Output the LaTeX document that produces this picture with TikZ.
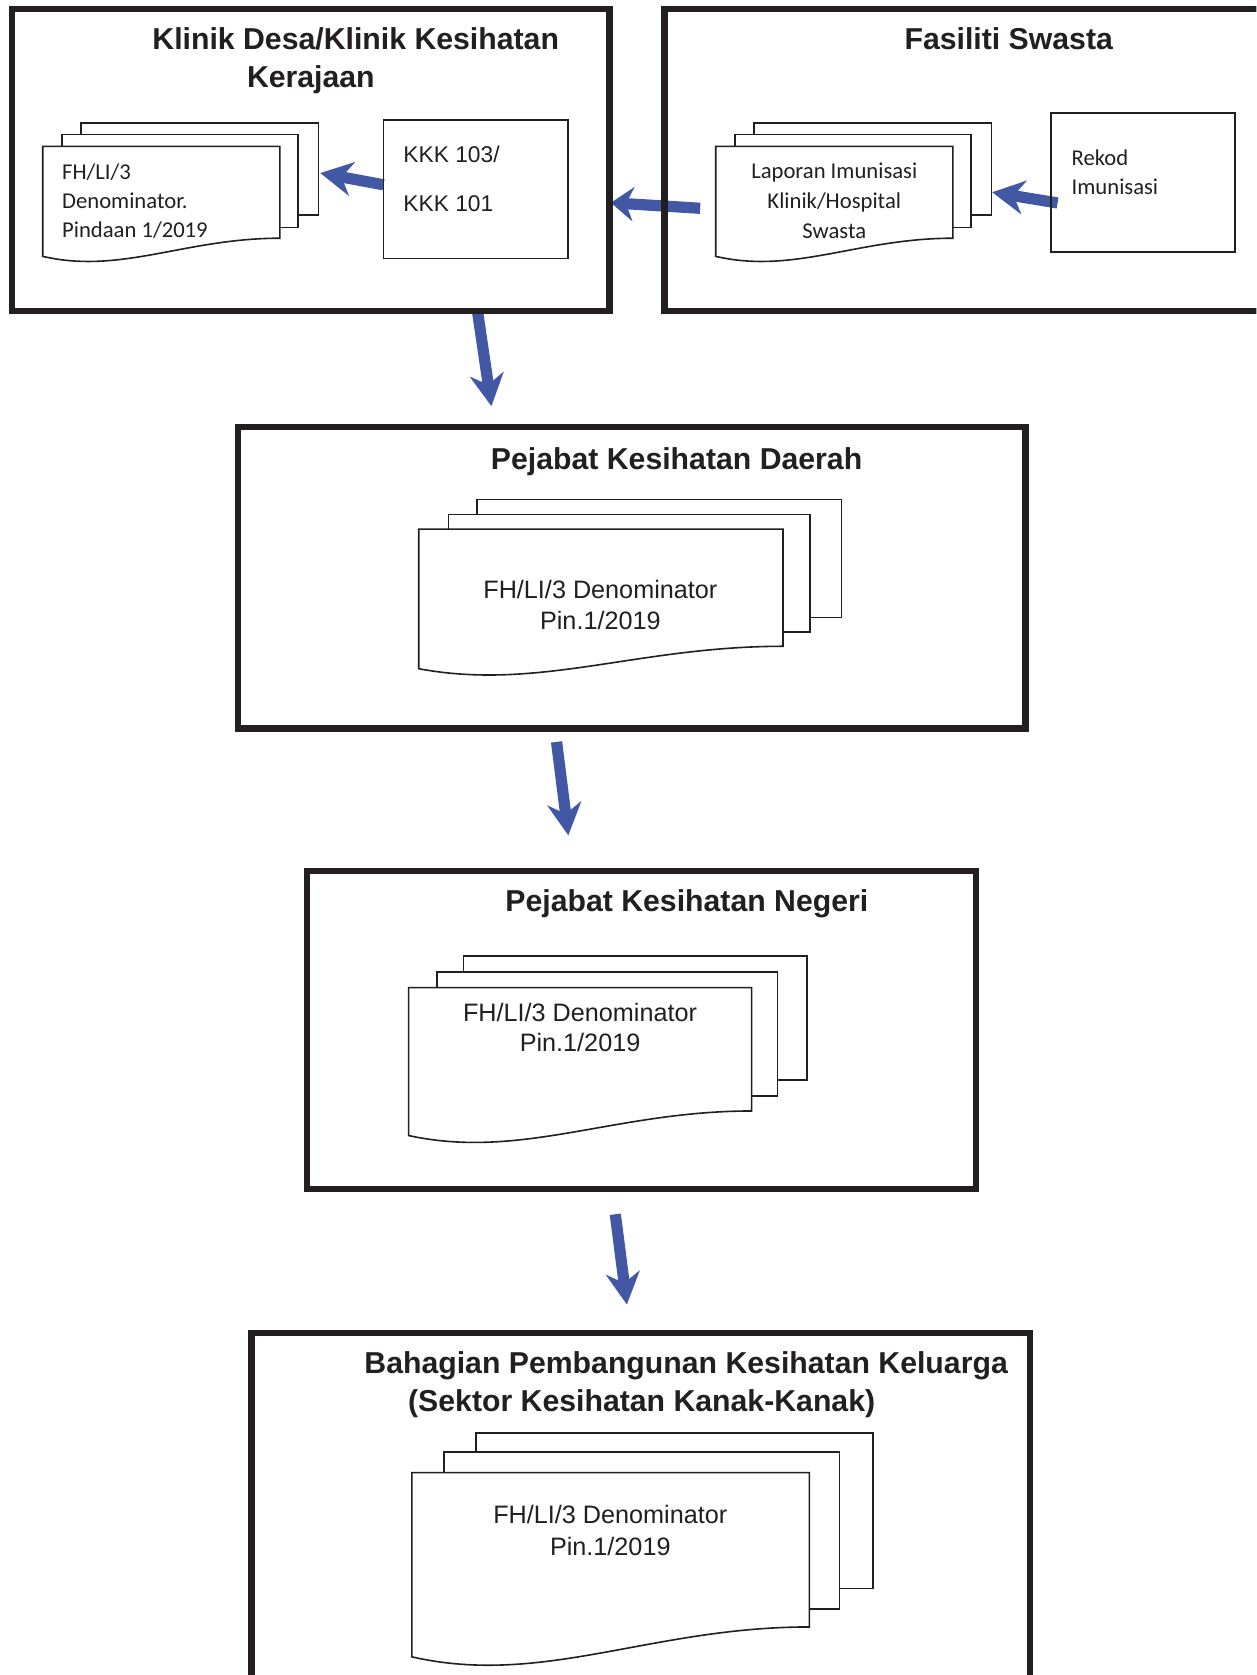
\documentclass[tikz,border=0pt]{standalone}
\usepackage{fontspec}
\setmainfont{Liberation Sans}
\newfontfamily\calib{Carlito}
\usetikzlibrary{arrows.meta}
\definecolor{flowblue}{RGB}{66,88,165}
\definecolor{ink}{RGB}{35,31,32}
\pgfdeclarelayer{paper}
\pgfdeclarelayer{bg}
\pgfsetlayers{paper,bg,main}
\newcommand\frontsheet[5]{%
  \pgfmathsetmacro\fsw{#3-#1}%
  \pgfmathsetmacro\fsyl{#4+#5}%
  \pgfmathsetmacro\fsca{#1+0.6*\fsw}%
  \pgfmathsetmacro\fscb{#1+0.33*\fsw}%
  \pgfmathsetmacro\fscy{\fsyl+#5}%
  \draw[sheetline] (#1,#2) -- (#3,#2) -- (#3,#4) .. controls (\fsca,#4) and (\fscb,\fscy) .. (#1,\fsyl) -- cycle;}
\begin{document}
\begin{tikzpicture}[x=1pt,y=-1pt,
  frame/.style={draw=ink,line width=5.8pt,inner sep=0pt,outer sep=0pt},
  inbox/.style={draw=ink,line width=1.8pt,inner sep=0pt,outer sep=0pt},
  sheet/.style={draw=ink,fill=white,line width=1.5pt,inner sep=0pt,outer sep=0pt},
  sheetline/.style={draw=ink,fill=white,line width=1.5pt,line join=miter},
  flow/.style={draw=flowblue,line width=10.5pt,-{Stealth[length=30pt,width=32pt,inset=10pt,line width=0.01pt]}},
  flowshort/.style={draw=flowblue,line width=10.5pt,-{Stealth[length=21pt,width=32pt,inset=7pt,line width=0.01pt]}},
  ttl/.style={inner sep=0pt,text=ink,font=\fontsize{28.3}{34}\selectfont\bfseries,anchor=base},
  dtxt/.style={inner sep=0pt,text=ink,font=\fontsize{23.6}{28}\selectfont,anchor=base},
  ctxt/.style={inner sep=0pt,text=ink,font=\calib\fontsize{21.2}{26}\selectfont,anchor=base west},
  ktxt/.style={inner sep=0pt,text=ink,font=\fontsize{21.3}{26}\selectfont,anchor=base west},
]
\useasboundingbox (0,0) rectangle (1176,1568);
\clip (0,0) rectangle (1176,1568);
\begin{pgfonlayer}{paper}
  \fill[white] (0,0) rectangle (1176,1568);
\end{pgfonlayer}

% ---------- frames ----------
\node[frame,minimum width=559pt,minimum height=282.9pt] (frame1) at (291,150.05) {};
\node[frame,minimum width=578pt,minimum height=283.2pt] (frame2) at (911,149.9) {};
\node[frame,minimum width=737pt,minimum height=282pt] (frame3) at (591.5,541) {};
\node[frame,minimum width=625.8pt,minimum height=297.7pt] (frame4) at (600.6,963.85) {};
\node[frame,minimum width=728.5pt,minimum height=372pt] (frame5) at (599.75,1434) {};

% ---------- titles ----------
\node[ttl] (t1a) at (333,46.2) {Klinik Desa/Klinik Kesihatan};
\node[ttl] (t1b) at (291,82) {Kerajaan};
\node[ttl] (t2) at (944.3,46.8) {Fasiliti Swasta};
\node[ttl] (t3) at (633.4,439.4) {Pejabat Kesihatan Daerah};
\node[ttl] (t4) at (643,853.6) {Pejabat Kesihatan Negeri};
\node[ttl] (t5a) at (642.3,1285.9) {Bahagian Pembangunan Kesihatan Keluarga};
\node[ttl] (t5b) at (600.7,1321) {(Sektor Kesihatan Kanak-Kanak)};

% ---------- inner boxes ----------
\node[inbox,minimum width=173pt,minimum height=129.6pt] (kkk) at (445.5,177.2) {};
\node[ktxt] (kkk1) at (377.5,152) {KKK 103/};
\node[ktxt] (kkk2) at (377.5,197.6) {KKK 101};
\node[inbox,minimum width=172.5pt,minimum height=130pt] (rekod) at (1070.25,171) {};
\node[ctxt] (rek1) at (1003,154.5) {Rekod};
\node[ctxt] (rek2) at (1003,182) {Imunisasi};

% ---------- document stacks ----------
% doc 1
\node[sheet,minimum width=222.3pt,minimum height=86pt] (d1c) at (186.85,158) {};
\node[sheet,minimum width=221pt,minimum height=87pt] (d1b) at (168.5,169.5) {};
\frontsheet{40}{137}{262}{223}{17}
\node[ctxt] (d1t1) at (58,167.6) {FH/LI/3};
\node[ctxt] (d1t2) at (58,195) {Denominator.};
\node[ctxt] (d1t3) at (58,222) {Pindaan 1/2019};
% doc 2
\node[sheet,minimum width=222pt,minimum height=86pt] (d2c) at (817,158) {};
\node[sheet,minimum width=221pt,minimum height=87pt] (d2b) at (798.5,169.5) {};
\frontsheet{670}{137}{892}{223}{17}
\node[ctxt,anchor=base] (d2t1) at (781,167) {Laporan Imunisasi};
\node[ctxt,anchor=base] (d2t2) at (781,195) {Klinik/Hospital};
\node[ctxt,anchor=base] (d2t3) at (781,223) {Swasta};
% doc 3
\node[sheet,minimum width=341.1pt,minimum height=110.5pt] (d3c) at (617.05,522.75) {};
\node[sheet,minimum width=338.4pt,minimum height=109.9pt] (d3b) at (589.2,536.55) {};
\frontsheet{392}{495.3}{733}{605}{21}
\node[dtxt] (d3t1) at (562,560) {FH/LI/3 Denominator};
\node[dtxt] (d3t2) at (562,589) {Pin.1/2019};
% doc 4
\node[sheet,minimum width=321.6pt,minimum height=116pt] (d4c) at (594.8,953) {};
\node[sheet,minimum width=319pt,minimum height=116pt] (d4b) at (568.5,968) {};
\frontsheet{382.5}{924.5}{703.6}{1040}{23}
\node[dtxt] (d4t1) at (543,956) {FH/LI/3 Denominator};
\node[dtxt] (d4t2) at (543,984.7) {Pin.1/2019};
% doc 5
\node[sheet,minimum width=371.6pt,minimum height=145.6pt] (d5c) at (631.2,1414.2) {};
\node[sheet,minimum width=370.3pt,minimum height=146.5pt] (d5b) at (600.85,1432.75) {};
\frontsheet{385.6}{1378.6}{757.7}{1523}{28}
\node[dtxt] (d5t1) at (571.3,1426.3) {FH/LI/3 Denominator};
\node[dtxt] (d5t2) at (571.3,1456) {Pin.1/2019};

% ---------- arrows ----------
\begin{pgfonlayer}{bg}
  \draw[flow] ([yshift=4.2pt]kkk.west) -- ([xshift=2pt,yshift=-4pt]d1c.east);
  \draw[flowshort] ([xshift=33.4pt,yshift=-45.1pt]frame2.west) -- ([xshift=1.5pt,yshift=-39.75pt]frame1.east);
  \draw[flow] ([xshift=6pt,yshift=-19pt]rekod.west) -- ([xshift=1pt,yshift=-22pt]d2c.east);
  \draw[flow] ([xshift=156pt]frame1.south) -- ([xshift=-131.5pt,yshift=20pt]frame3.north);
  \draw[flow] ([xshift=-70.5pt,yshift=-12.5pt]frame3.south) -- ([xshift=-68.6pt,yshift=33.2pt]frame4.north);
  \draw[flow] ([xshift=-24.6pt,yshift=-24pt]frame4.south) -- ([xshift=-12.95pt,yshift=27pt]frame5.north);
\end{pgfonlayer}
\end{tikzpicture}
\end{document}
